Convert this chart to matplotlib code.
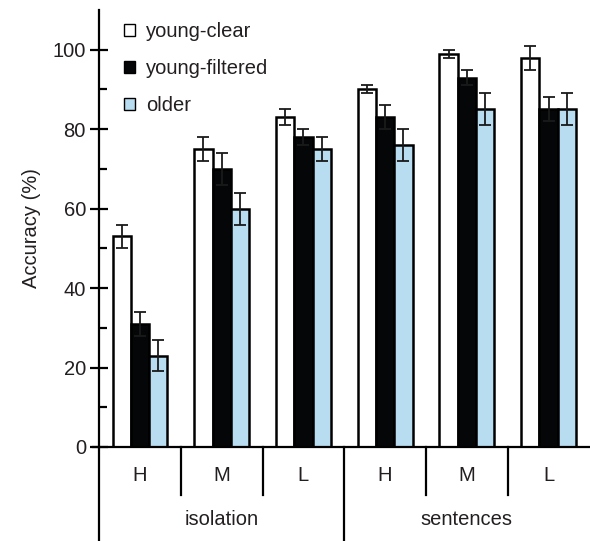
import matplotlib
matplotlib.use("Agg")
import matplotlib.pyplot as plt
import numpy as np

plt.rcParams['font.family'] = ['Liberation Sans', 'DejaVu Sans']

conditions = ["H", "M", "L", "H", "M", "L"]
contexts = ["isolation", "sentences"]
series = ["young-clear", "young-filtered", "older"]
young_clear = [53, 75, 83, 90, 99, 98]
young_clear_err = [3, 3, 2, 1, 1, 3]
young_filtered = [31, 70, 78, 83, 93, 85]
young_filtered_err = [3, 4, 2, 3, 2, 3]
older = [23, 60, 75, 76, 85, 85]
older_err = [4, 4, 3, 4, 4, 4]

colors = ["white", "#050608", "#b8dcf0"]
txt = "#231f20"
fs = 14.5

fig = plt.figure(figsize=(5.9, 5.41), dpi=100)
ax = fig.add_axes([0.168, 0.1738, 0.831, 0.8077])

x = np.arange(len(conditions)) + 0.5
w = 0.224
vals = [young_clear, young_filtered, older]
errs = [young_clear_err, young_filtered_err, older_err]
for i, (v, e) in enumerate(zip(vals, errs)):
    ax.bar(x + (i - 1) * w, v, w, color=colors[i], edgecolor="black",
           linewidth=1.8, label=series[i], zorder=2)
    ax.errorbar(x + (i - 1) * w, v, yerr=e, fmt="none", ecolor="#1a1a1a",
                elinewidth=1.3, capsize=4.5, capthick=1.3, zorder=3)

ax.set_xlim(0, 6)
ax.set_ylim(0, 110)
ax.set_yticks([0, 20, 40, 60, 80, 100])
ax.set_yticks([10, 30, 50, 70, 90], minor=True)
ax.tick_params(axis="y", which="major", direction="inout", length=13,
               width=1.6, labelsize=fs, labelcolor=txt, pad=3)
ax.tick_params(axis="y", which="minor", direction="in", length=6, width=1.6)
ax.set_xticks([])
ax.set_ylabel("Accuracy (%)", fontsize=fs, color=txt, labelpad=8)

for s in ["top", "right"]:
    ax.spines[s].set_visible(False)
ax.spines["left"].set_linewidth(1.6)
ax.spines["bottom"].set_visible(False)

# bottom axis line and category table
ax.plot([-0.07, 6], [0, 0], color="black", lw=1.6, clip_on=False, zorder=4)
trans = ax.get_xaxis_transform()
for xs in [1, 2, 4, 5]:
    ax.plot([xs, xs], [0, -0.111], color="black", lw=1.6, transform=trans,
            clip_on=False)
for xs in [0, 3]:
    ax.plot([xs, xs], [0, -0.23], color="black", lw=1.6, transform=trans,
            clip_on=False)
for xi, lab in zip(x, conditions):
    ax.text(xi, -0.065, lab, transform=trans, ha="center", va="center",
            fontsize=fs, color=txt)
for k, lab in enumerate(contexts):
    ax.text(1.5 + 3 * k, -0.165, lab, transform=trans, ha="center",
            va="center", fontsize=fs, color=txt)

leg = ax.legend(loc="upper left", bbox_to_anchor=(0.022, 1.005), frameon=False,
                fontsize=fs, handlelength=0.55, handleheight=0.55,
                handletextpad=0.55, labelspacing=0.9, borderaxespad=0.3)
for h in leg.legend_handles:
    h.set_linewidth(1.0)
for t in leg.get_texts():
    t.set_color(txt)

fig.savefig("out.png", dpi=100)
